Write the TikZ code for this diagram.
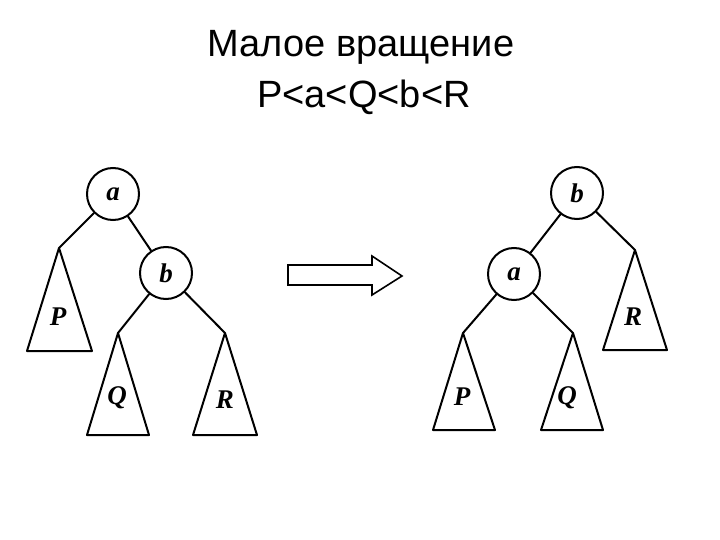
\documentclass[tikz,border=0pt]{standalone}
\usepackage{fontspec}
\setmainfont{Liberation Serif}
\newfontfamily\titlefont{Liberation Sans}
\usepackage{tikz}
\usetikzlibrary{calc, positioning}
\tikzset{
x=1pt, y=-1pt, % pixel units, y pointing down
every node/.style={inner sep=1pt},
edge/.style={line width=2pt, line cap=round, line join=round},
key/.style={circle, draw, line width=2pt, minimum size=52pt, inner sep=0pt,
  font=\fontsize{27}{27}\selectfont\bfseries\itshape},
lbl/.style={font=\fontsize{27}{27}\selectfont\bfseries\itshape},
headline/.style={anchor=base, font=\titlefont\fontsize{38}{38}\selectfont},
}

\begin{document}
\begin{tikzpicture}
  \useasboundingbox (0,0) rectangle (720,540);

  % Title
  \node[headline] (title) at (361,57) {Малое вращение};
  \node[headline] (order) at (364,108) {P<a<Q<b<R};

  % Left tree
  \node[key] (a1) at (113,194) {a};
  \node[key] (b1) at (166,273) {b};

  % Right tree
  \node[key] (b2) at (577,193) {b};
  \node[key] (a2) at (514,274) {a};

  % Subtrees
  \foreach \nm/\ax/\ay/\bl/\br/\by/\lx/\ly/\txt in
  {P1/59/248/27/92/351/58/317/P,
   Q1/118/333/87/149/435/117/398/Q,
   R1/225/333/193/257/435/225/400/R,
   R2/635/250/603/667/350/633/317/R,
   P2/463/333/433/495/430/462/397/P,
   Q2/573/333/541/603/430/567/398/Q}
  {
    \coordinate (\nm) at (\ax,\ay);
    \draw[edge] (\nm) -- (\bl,\by) -- (\br,\by) -- cycle;
    \node[lbl] (\nm-txt) at (\lx,\ly) {\txt};
  }

  % Edges
  \draw[edge] (a1) -- (P1);
  \draw[edge] (a1) -- (b1);
  \draw[edge] (b1) -- (Q1);
  \draw[edge] (b1) -- (R1);

  \draw[edge] (b2) -- (a2);
  \draw[edge] (b2) -- (R2);
  \draw[edge] (a2) -- (P2);
  \draw[edge] (a2) -- (Q2);

  % Arrow
  \draw[line width=1.6pt, line join=miter]
    (288,265) -- (372,265) -- (372,256) -- (402,276) -- (372,295)
    -- (372,285) -- (288,285) -- cycle;
\end{tikzpicture}
\end{document}
